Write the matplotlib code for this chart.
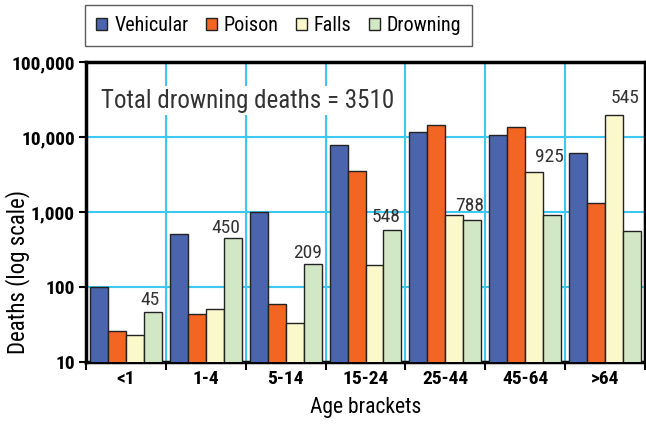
import matplotlib
matplotlib.use("Agg")
import matplotlib.pyplot as plt
import numpy as np
from matplotlib.ticker import FixedLocator, FuncFormatter, NullLocator
from matplotlib import font_manager as fm

names = {f.name for f in fm.fontManager.ttflist}
cond = None
for cand in ["Liberation Sans Narrow", "DejaVu Sans Condensed", "Roboto Condensed", "Open Sans Condensed"]:
    if cand in names:
        cond = cand
        break
FAM = [cond] if cond else ["DejaVu Sans"]
plt.rcParams['font.family'] = FAM + ["DejaVu Sans"]

categories = ["<1", "1-4", "5-14", "15-24", "25-44", "45-64", ">64"]
series_names = ["Vehicular", "Poison", "Falls", "Drowning"]
vehicular = [100, 515, 1000, 7800, 11500, 10500, 6030]
poison = [25.6, 44, 59, 3470, 14300, 13800, 1300]
falls = [23, 51, 33, 194, 900, 3410, 19800]
drowning = [47, 456, 203, 575, 790, 900, 551]
drown_labels = ["45", "450", "209", "548", "788", "925", "545"]
label_x = [0.30, 1.25, 2.275, 3.26, 4.30, 5.30, 6.25]
label_y = [67, 617, 287, 865, 1213, 5460, 33400]
yticks = [10, 100, 1000, 10000, 100000]

colors = ["#4a64ad", "#f26522", "#fbf8cc", "#d2e7c5"]
values = [vehicular, poison, falls, drowning]

fig = plt.figure(figsize=(6.46, 4.26), dpi=100)
ax = fig.add_axes([86/646, 64/426, 559/646, 300/426])
x = np.arange(len(categories))
w = 0.225
handles = []
for k, (vals, c, nm) in enumerate(zip(values, colors, series_names)):
    h = ax.bar(x - 1.5*w + k*w, vals, width=w, color=c, edgecolor="#222222",
               linewidth=1.0, label=nm, zorder=3)
    handles.append(h)

ax.set_yscale("log")
ax.set_ylim(10, 100000)
ax.set_xlim(-0.5, len(categories) - 0.5)
ax.yaxis.set_major_locator(FixedLocator(yticks))
ax.yaxis.set_minor_locator(NullLocator())
ax.yaxis.set_major_formatter(FuncFormatter(lambda v, p: f"{int(round(v)):,}"))

bounds = np.arange(len(categories) + 1) - 0.5
ax.set_xticks(bounds)
ax.set_xticklabels([])
ax.set_xticks(x, minor=True)
ax.set_xticklabels(categories, minor=True)
ax.tick_params(axis="x", which="minor", length=0, pad=6, labelsize=14)
ax.tick_params(axis="x", which="major", length=6, width=1.5, direction="out")
ax.tick_params(axis="y", which="major", length=5, width=1.5, labelsize=14, pad=3)
for lbl in ax.get_xticklabels(minor=True) + ax.get_yticklabels():
    lbl.set_fontweight("bold")

ax.grid(True, which="major", color="#3cc8f0", linewidth=1.5, zorder=0)
ax.set_axisbelow(True)
for s in ax.spines.values():
    s.set_linewidth(2.5)
    s.set_color("black")

ax.set_ylabel("Deaths (log scale)", fontsize=16.5)
ax.yaxis.set_label_coords(-0.10, 0.30)
ax.set_xlabel("Age brackets", fontsize=15.5, labelpad=6)

for lx, ly, t in zip(label_x, label_y, drown_labels):
    ax.text(lx, ly, t, ha="center", va="center", fontsize=14, color="#333333", zorder=4)

ax.text(-0.31, 30500, "Total drowning deaths = 3510", ha="left", va="center",
        fontsize=18, color="#333333", zorder=2,
        bbox=dict(facecolor="white", edgecolor="none", pad=2))

leg = fig.legend(handles=handles, labels=series_names, loc="upper left",
                 bbox_to_anchor=(85/646, 1 - 5/426), borderaxespad=0, ncol=4, fontsize=14.5,
                 frameon=True, fancybox=False, edgecolor="#333333",
                 handlelength=0.55, handleheight=0.6, handletextpad=0.35,
                 columnspacing=0.85, borderpad=0.55)
leg.get_frame().set_linewidth(1.0)

fig.savefig("out.png", dpi=100)
